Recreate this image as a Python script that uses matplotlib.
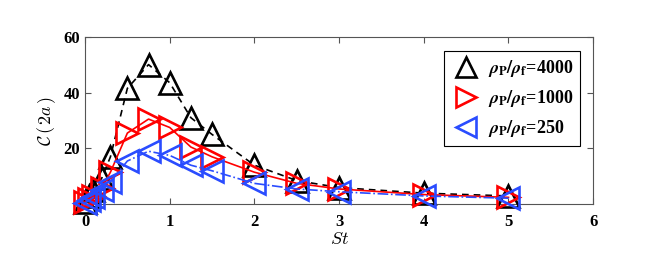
import numpy as np
import matplotlib.pyplot as plt

st = [0, 0.05, 0.1, 0.2, 0.3, 0.5, 0.75, 1.0, 1.25, 1.5, 2.0, 2.5, 3.0, 4.0, 5.0]
c_4000 = [1, 3, 5, 9.5, 17, 41.5, 50, 43.5, 31, 25, 14, 8.5, 6, 4, 3]
c_1000 = [1, 2, 3, 6, 11.5, 25.5, 30.5, 27.5, 20.5, 17, 11.5, 7.5, 5.5, 3.5, 2.5]
c_250 = [0.5, 1.5, 2.5, 5, 8, 15.5, 19, 17.5, 14, 12, 7.5, 5.5, 4.5, 3, 2.2]
labels = [r'$\rho_\mathbf{P}/\rho_\mathbf{f}$=4000',
          r'$\rho_\mathbf{P}/\rho_\mathbf{f}$=1000',
          r'$\rho_\mathbf{P}/\rho_\mathbf{f}$=250']

plt.rcParams['font.family'] = 'Liberation Serif'
plt.rcParams['font.weight'] = 'bold'

fig = plt.figure(figsize=(6.54, 2.58), dpi=100)
ax = fig.add_axes([0.130, 0.208, 0.777, 0.650])

blue = '#2a4cff'
ax.plot(st, c_4000, 'k--', lw=1.2, marker='^', ms=16, mfc='none', mew=1.9,
        dashes=(4, 3), clip_on=False, zorder=3)
ax.plot(st, c_1000, '-', color='red', lw=1.2, marker='>', ms=16, mfc='none',
        mew=1.9, clip_on=False, zorder=4)
ax.plot(st, c_250, '-.', color=blue, lw=1.2, marker='<', ms=16, mfc='none',
        mew=1.9, clip_on=False, zorder=5)

ax.set_xlim(0, 6)
ax.set_ylim(0, 60)
ax.set_xticks(range(7))
ax.set_yticks([20, 40, 60])
ax.tick_params(direction='in', top=True, right=True, labelsize=12, length=4,
               color='#555555')
ax.tick_params(axis='x', pad=7)
for s in ax.spines.values():
    s.set_color('#555555')
for t in ax.get_xticklabels() + ax.get_yticklabels():
    t.set_fontweight('bold')

ax.set_xlabel(r'$St$', fontsize=13, math_fontfamily='cm', labelpad=1)
ax.set_ylabel(r'$\mathcal{C}\,(\,2a\,)$', fontsize=13, math_fontfamily='cm',
              labelpad=4)

# legend with markers only
handles = [
    plt.Line2D([], [], ls='none', marker='^', ms=15, mfc='none', mec='k', mew=1.9),
    plt.Line2D([], [], ls='none', marker='>', ms=14, mfc='none', mec='red', mew=1.9),
    plt.Line2D([], [], ls='none', marker='<', ms=14, mfc='none', mec=blue, mew=1.9),
]
leg = ax.legend(handles, labels, loc='upper right', bbox_to_anchor=(0.992, 0.97),
                fancybox=False, edgecolor='k', framealpha=1, handlelength=1.6,
                handletextpad=0.4, labelspacing=0.5, borderpad=0.4,
                prop={'size': 13, 'weight': 'bold'})
for t in leg.get_texts():
    t.set_math_fontfamily('stix')
leg.get_frame().set_linewidth(0.8)

fig.savefig('out.png', dpi=100)
